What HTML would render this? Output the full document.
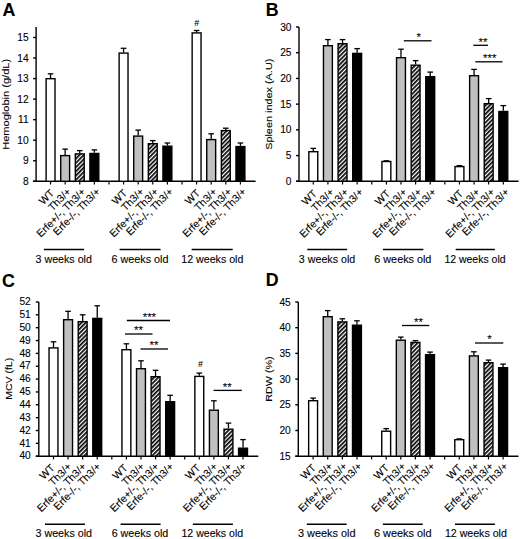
<!DOCTYPE html>
<html><head><meta charset="utf-8"><title>Figure</title>
<style>
html,body{margin:0;padding:0;background:#fff;}
body{width:520px;height:539px;overflow:hidden;}
svg{display:block;}
text{font-family:"Liberation Sans", sans-serif;fill:#000;stroke:#000;stroke-width:0.1px;}
</style></head>
<body>
<svg width="520" height="539" viewBox="0 0 520 539">
<defs>
<pattern id="hatch" patternUnits="userSpaceOnUse" width="3.0" height="3.0" patternTransform="rotate(45)">
<rect x="0" y="0" width="3.0" height="3.0" fill="#fff"/>
<rect x="0" y="0" width="1.7" height="3.0" fill="#000"/>
</pattern>
</defs>
<rect x="0" y="0" width="520" height="539" fill="#fff"/>
<text x="2.6" y="15.9" font-size="17.8" font-weight="bold">A</text>
<line x1="36.1" y1="27" x2="36.1" y2="181.3" stroke="#000" stroke-width="1.4"/>
<line x1="33.1" y1="181.3" x2="255.6" y2="181.3" stroke="#000" stroke-width="1.4"/>
<line x1="33.1" y1="181.3" x2="36.1" y2="181.3" stroke="#000" stroke-width="1.4"/>
<text x="28.6" y="184.9" font-size="10.2" text-anchor="end">8</text>
<line x1="33.1" y1="160.76" x2="36.1" y2="160.76" stroke="#000" stroke-width="1.4"/>
<text x="28.6" y="164.36" font-size="10.2" text-anchor="end">9</text>
<line x1="33.1" y1="140.21" x2="36.1" y2="140.21" stroke="#000" stroke-width="1.4"/>
<text x="28.6" y="143.81" font-size="10.2" text-anchor="end">10</text>
<line x1="33.1" y1="119.67" x2="36.1" y2="119.67" stroke="#000" stroke-width="1.4"/>
<text x="28.6" y="123.27" font-size="10.2" text-anchor="end">11</text>
<line x1="33.1" y1="99.13" x2="36.1" y2="99.13" stroke="#000" stroke-width="1.4"/>
<text x="28.6" y="102.73" font-size="10.2" text-anchor="end">12</text>
<line x1="33.1" y1="78.59" x2="36.1" y2="78.59" stroke="#000" stroke-width="1.4"/>
<text x="28.6" y="82.19" font-size="10.2" text-anchor="end">13</text>
<line x1="33.1" y1="58.04" x2="36.1" y2="58.04" stroke="#000" stroke-width="1.4"/>
<text x="28.6" y="61.64" font-size="10.2" text-anchor="end">14</text>
<line x1="33.1" y1="37.5" x2="36.1" y2="37.5" stroke="#000" stroke-width="1.4"/>
<text x="28.6" y="41.1" font-size="10.2" text-anchor="end">15</text>
<text transform="translate(9,104.35) rotate(-90)" font-size="9.8" text-anchor="middle" textLength="91" lengthAdjust="spacingAndGlyphs">Hemoglobin (g/dL)</text>
<line x1="50.55" y1="181.3" x2="50.55" y2="184.5" stroke="#000" stroke-width="1.2"/>
<line x1="65.16" y1="181.3" x2="65.16" y2="184.5" stroke="#000" stroke-width="1.2"/>
<line x1="79.76" y1="181.3" x2="79.76" y2="184.5" stroke="#000" stroke-width="1.2"/>
<line x1="94.36" y1="181.3" x2="94.36" y2="184.5" stroke="#000" stroke-width="1.2"/>
<line x1="108.97" y1="181.3" x2="108.97" y2="184.5" stroke="#000" stroke-width="1.2"/>
<line x1="123.58" y1="181.3" x2="123.58" y2="184.5" stroke="#000" stroke-width="1.2"/>
<line x1="138.18" y1="181.3" x2="138.18" y2="184.5" stroke="#000" stroke-width="1.2"/>
<line x1="152.78" y1="181.3" x2="152.78" y2="184.5" stroke="#000" stroke-width="1.2"/>
<line x1="167.39" y1="181.3" x2="167.39" y2="184.5" stroke="#000" stroke-width="1.2"/>
<line x1="182" y1="181.3" x2="182" y2="184.5" stroke="#000" stroke-width="1.2"/>
<line x1="196.6" y1="181.3" x2="196.6" y2="184.5" stroke="#000" stroke-width="1.2"/>
<line x1="211.2" y1="181.3" x2="211.2" y2="184.5" stroke="#000" stroke-width="1.2"/>
<line x1="225.81" y1="181.3" x2="225.81" y2="184.5" stroke="#000" stroke-width="1.2"/>
<line x1="240.42" y1="181.3" x2="240.42" y2="184.5" stroke="#000" stroke-width="1.2"/>
<line x1="50.55" y1="78" x2="50.55" y2="73.8" stroke="#000" stroke-width="1.3"/>
<line x1="47.75" y1="73.8" x2="53.35" y2="73.8" stroke="#000" stroke-width="1.3"/>
<rect x="46.1" y="78.7" width="8.9" height="102.6" fill="#ffffff" stroke="#000" stroke-width="1.4"/>
<text transform="translate(54.65,193.8) rotate(-45)" font-size="10.45" text-anchor="end">WT</text>
<line x1="65.16" y1="154.9" x2="65.16" y2="149.1" stroke="#000" stroke-width="1.3"/>
<line x1="62.36" y1="149.1" x2="67.95" y2="149.1" stroke="#000" stroke-width="1.3"/>
<rect x="60.71" y="155.6" width="8.9" height="25.7" fill="#c0c0c0" stroke="#000" stroke-width="1.4"/>
<text transform="translate(71.56,192.4) rotate(-45)" font-size="10.45" text-anchor="end">Th3/+</text>
<line x1="79.76" y1="153.2" x2="79.76" y2="150.6" stroke="#000" stroke-width="1.3"/>
<line x1="76.96" y1="150.6" x2="82.56" y2="150.6" stroke="#000" stroke-width="1.3"/>
<rect x="75.31" y="153.9" width="8.9" height="27.4" fill="url(#hatch)" stroke="#000" stroke-width="1.4"/>
<text transform="translate(86.16,192.4) rotate(-45)" font-size="10.45" text-anchor="end">Erfe+/-, Th3/+</text>
<line x1="94.36" y1="152.8" x2="94.36" y2="149.9" stroke="#000" stroke-width="1.3"/>
<line x1="91.56" y1="149.9" x2="97.16" y2="149.9" stroke="#000" stroke-width="1.3"/>
<rect x="89.91" y="153.5" width="8.9" height="27.8" fill="#000000" stroke="#000" stroke-width="1.4"/>
<text transform="translate(100.77,192.4) rotate(-45)" font-size="10.45" text-anchor="end">Erfe-/-, Th3/+</text>
<line x1="123.58" y1="52.4" x2="123.58" y2="48.3" stroke="#000" stroke-width="1.3"/>
<line x1="120.78" y1="48.3" x2="126.38" y2="48.3" stroke="#000" stroke-width="1.3"/>
<rect x="119.12" y="53.1" width="8.9" height="128.2" fill="#ffffff" stroke="#000" stroke-width="1.4"/>
<text transform="translate(127.67,193.8) rotate(-45)" font-size="10.45" text-anchor="end">WT</text>
<line x1="138.18" y1="135.4" x2="138.18" y2="130.1" stroke="#000" stroke-width="1.3"/>
<line x1="135.38" y1="130.1" x2="140.98" y2="130.1" stroke="#000" stroke-width="1.3"/>
<rect x="133.73" y="136.1" width="8.9" height="45.2" fill="#c0c0c0" stroke="#000" stroke-width="1.4"/>
<text transform="translate(144.58,192.4) rotate(-45)" font-size="10.45" text-anchor="end">Th3/+</text>
<line x1="152.78" y1="143" x2="152.78" y2="140.6" stroke="#000" stroke-width="1.3"/>
<line x1="149.98" y1="140.6" x2="155.59" y2="140.6" stroke="#000" stroke-width="1.3"/>
<rect x="148.33" y="143.7" width="8.9" height="37.6" fill="url(#hatch)" stroke="#000" stroke-width="1.4"/>
<text transform="translate(159.19,192.4) rotate(-45)" font-size="10.45" text-anchor="end">Erfe+/-, Th3/+</text>
<line x1="167.39" y1="145.5" x2="167.39" y2="143" stroke="#000" stroke-width="1.3"/>
<line x1="164.59" y1="143" x2="170.19" y2="143" stroke="#000" stroke-width="1.3"/>
<rect x="162.94" y="146.2" width="8.9" height="35.1" fill="#000000" stroke="#000" stroke-width="1.4"/>
<text transform="translate(173.79,192.4) rotate(-45)" font-size="10.45" text-anchor="end">Erfe-/-, Th3/+</text>
<line x1="196.6" y1="32.2" x2="196.6" y2="30.5" stroke="#000" stroke-width="1.3"/>
<line x1="193.8" y1="30.5" x2="199.4" y2="30.5" stroke="#000" stroke-width="1.3"/>
<rect x="192.15" y="32.9" width="8.9" height="148.4" fill="#ffffff" stroke="#000" stroke-width="1.4"/>
<text transform="translate(200.7,193.8) rotate(-45)" font-size="10.45" text-anchor="end">WT</text>
<line x1="211.2" y1="138.9" x2="211.2" y2="133.8" stroke="#000" stroke-width="1.3"/>
<line x1="208.4" y1="133.8" x2="214" y2="133.8" stroke="#000" stroke-width="1.3"/>
<rect x="206.75" y="139.6" width="8.9" height="41.7" fill="#c0c0c0" stroke="#000" stroke-width="1.4"/>
<text transform="translate(217.6,192.4) rotate(-45)" font-size="10.45" text-anchor="end">Th3/+</text>
<line x1="225.81" y1="129.9" x2="225.81" y2="128.2" stroke="#000" stroke-width="1.3"/>
<line x1="223.01" y1="128.2" x2="228.61" y2="128.2" stroke="#000" stroke-width="1.3"/>
<rect x="221.36" y="130.6" width="8.9" height="50.7" fill="url(#hatch)" stroke="#000" stroke-width="1.4"/>
<text transform="translate(232.21,192.4) rotate(-45)" font-size="10.45" text-anchor="end">Erfe+/-, Th3/+</text>
<line x1="240.42" y1="145.9" x2="240.42" y2="143" stroke="#000" stroke-width="1.3"/>
<line x1="237.62" y1="143" x2="243.22" y2="143" stroke="#000" stroke-width="1.3"/>
<rect x="235.97" y="146.6" width="8.9" height="34.7" fill="#000000" stroke="#000" stroke-width="1.4"/>
<text transform="translate(246.82,192.4) rotate(-45)" font-size="10.45" text-anchor="end">Erfe-/-, Th3/+</text>
<text x="196.5" y="25.5" font-size="8.5" font-style="italic" text-anchor="middle">#</text>
<line x1="43.9" y1="249.5" x2="84.1" y2="249.5" stroke="#000" stroke-width="1.4"/>
<text x="35.6" y="262.8" font-size="10.2" textLength="56.3" lengthAdjust="spacingAndGlyphs">3 weeks old</text>
<line x1="119.6" y1="249.5" x2="160.6" y2="249.5" stroke="#000" stroke-width="1.4"/>
<text x="111.5" y="262.8" font-size="10.2" textLength="56.9" lengthAdjust="spacingAndGlyphs">6 weeks old</text>
<line x1="191.7" y1="249.5" x2="232.7" y2="249.5" stroke="#000" stroke-width="1.4"/>
<text x="181.3" y="262.8" font-size="10.2" textLength="62.1" lengthAdjust="spacingAndGlyphs">12 weeks old</text>
<text x="265.8" y="15.8" font-size="17.8" font-weight="bold">B</text>
<line x1="299" y1="27" x2="299" y2="181.3" stroke="#000" stroke-width="1.4"/>
<line x1="296" y1="181.3" x2="518.5" y2="181.3" stroke="#000" stroke-width="1.4"/>
<line x1="296" y1="181.3" x2="299" y2="181.3" stroke="#000" stroke-width="1.4"/>
<text x="291.5" y="184.9" font-size="10.2" text-anchor="end">0</text>
<line x1="296" y1="155.58" x2="299" y2="155.58" stroke="#000" stroke-width="1.4"/>
<text x="291.5" y="159.18" font-size="10.2" text-anchor="end">5</text>
<line x1="296" y1="129.87" x2="299" y2="129.87" stroke="#000" stroke-width="1.4"/>
<text x="291.5" y="133.47" font-size="10.2" text-anchor="end">10</text>
<line x1="296" y1="104.15" x2="299" y2="104.15" stroke="#000" stroke-width="1.4"/>
<text x="291.5" y="107.75" font-size="10.2" text-anchor="end">15</text>
<line x1="296" y1="78.43" x2="299" y2="78.43" stroke="#000" stroke-width="1.4"/>
<text x="291.5" y="82.03" font-size="10.2" text-anchor="end">20</text>
<line x1="296" y1="52.72" x2="299" y2="52.72" stroke="#000" stroke-width="1.4"/>
<text x="291.5" y="56.32" font-size="10.2" text-anchor="end">25</text>
<line x1="296" y1="27" x2="299" y2="27" stroke="#000" stroke-width="1.4"/>
<text x="291.5" y="30.6" font-size="10.2" text-anchor="end">30</text>
<text transform="translate(271.6,104.25) rotate(-90)" font-size="9.8" text-anchor="middle" textLength="91.2" lengthAdjust="spacingAndGlyphs">Spleen index (A.U)</text>
<line x1="313.3" y1="181.3" x2="313.3" y2="184.5" stroke="#000" stroke-width="1.2"/>
<line x1="327.92" y1="181.3" x2="327.92" y2="184.5" stroke="#000" stroke-width="1.2"/>
<line x1="342.53" y1="181.3" x2="342.53" y2="184.5" stroke="#000" stroke-width="1.2"/>
<line x1="357.14" y1="181.3" x2="357.14" y2="184.5" stroke="#000" stroke-width="1.2"/>
<line x1="371.76" y1="181.3" x2="371.76" y2="184.5" stroke="#000" stroke-width="1.2"/>
<line x1="386.38" y1="181.3" x2="386.38" y2="184.5" stroke="#000" stroke-width="1.2"/>
<line x1="400.99" y1="181.3" x2="400.99" y2="184.5" stroke="#000" stroke-width="1.2"/>
<line x1="415.61" y1="181.3" x2="415.61" y2="184.5" stroke="#000" stroke-width="1.2"/>
<line x1="430.22" y1="181.3" x2="430.22" y2="184.5" stroke="#000" stroke-width="1.2"/>
<line x1="444.84" y1="181.3" x2="444.84" y2="184.5" stroke="#000" stroke-width="1.2"/>
<line x1="459.45" y1="181.3" x2="459.45" y2="184.5" stroke="#000" stroke-width="1.2"/>
<line x1="474.07" y1="181.3" x2="474.07" y2="184.5" stroke="#000" stroke-width="1.2"/>
<line x1="488.68" y1="181.3" x2="488.68" y2="184.5" stroke="#000" stroke-width="1.2"/>
<line x1="503.3" y1="181.3" x2="503.3" y2="184.5" stroke="#000" stroke-width="1.2"/>
<line x1="313.3" y1="151" x2="313.3" y2="148.4" stroke="#000" stroke-width="1.3"/>
<line x1="310.5" y1="148.4" x2="316.1" y2="148.4" stroke="#000" stroke-width="1.3"/>
<rect x="308.85" y="151.7" width="8.9" height="29.6" fill="#ffffff" stroke="#000" stroke-width="1.4"/>
<text transform="translate(317.6,194.2) rotate(-45)" font-size="10.45" text-anchor="end">WT</text>
<line x1="327.92" y1="45" x2="327.92" y2="39.6" stroke="#000" stroke-width="1.3"/>
<line x1="325.12" y1="39.6" x2="330.72" y2="39.6" stroke="#000" stroke-width="1.3"/>
<rect x="323.47" y="45.7" width="8.9" height="135.6" fill="#c0c0c0" stroke="#000" stroke-width="1.4"/>
<text transform="translate(334.51,192.8) rotate(-45)" font-size="10.45" text-anchor="end">Th3/+</text>
<line x1="342.53" y1="43" x2="342.53" y2="39.6" stroke="#000" stroke-width="1.3"/>
<line x1="339.73" y1="39.6" x2="345.33" y2="39.6" stroke="#000" stroke-width="1.3"/>
<rect x="338.08" y="43.7" width="8.9" height="137.6" fill="url(#hatch)" stroke="#000" stroke-width="1.4"/>
<text transform="translate(349.13,192.8) rotate(-45)" font-size="10.45" text-anchor="end">Erfe+/-, Th3/+</text>
<line x1="357.14" y1="52.7" x2="357.14" y2="48.6" stroke="#000" stroke-width="1.3"/>
<line x1="354.34" y1="48.6" x2="359.94" y2="48.6" stroke="#000" stroke-width="1.3"/>
<rect x="352.69" y="53.4" width="8.9" height="127.9" fill="#000000" stroke="#000" stroke-width="1.4"/>
<text transform="translate(363.74,192.8) rotate(-45)" font-size="10.45" text-anchor="end">Erfe-/-, Th3/+</text>
<line x1="386.38" y1="160.8" x2="386.38" y2="160.8" stroke="#000" stroke-width="1.3"/>
<line x1="383.57" y1="160.8" x2="389.18" y2="160.8" stroke="#000" stroke-width="1.3"/>
<rect x="381.93" y="161.5" width="8.9" height="19.8" fill="#ffffff" stroke="#000" stroke-width="1.4"/>
<text transform="translate(390.68,194.2) rotate(-45)" font-size="10.45" text-anchor="end">WT</text>
<line x1="400.99" y1="57" x2="400.99" y2="49.2" stroke="#000" stroke-width="1.3"/>
<line x1="398.19" y1="49.2" x2="403.79" y2="49.2" stroke="#000" stroke-width="1.3"/>
<rect x="396.54" y="57.7" width="8.9" height="123.6" fill="#c0c0c0" stroke="#000" stroke-width="1.4"/>
<text transform="translate(407.59,192.8) rotate(-45)" font-size="10.45" text-anchor="end">Th3/+</text>
<line x1="415.61" y1="64.5" x2="415.61" y2="60.6" stroke="#000" stroke-width="1.3"/>
<line x1="412.81" y1="60.6" x2="418.41" y2="60.6" stroke="#000" stroke-width="1.3"/>
<rect x="411.16" y="65.2" width="8.9" height="116.1" fill="url(#hatch)" stroke="#000" stroke-width="1.4"/>
<text transform="translate(422.2,192.8) rotate(-45)" font-size="10.45" text-anchor="end">Erfe+/-, Th3/+</text>
<line x1="430.22" y1="76" x2="430.22" y2="72.1" stroke="#000" stroke-width="1.3"/>
<line x1="427.42" y1="72.1" x2="433.02" y2="72.1" stroke="#000" stroke-width="1.3"/>
<rect x="425.77" y="76.7" width="8.9" height="104.6" fill="#000000" stroke="#000" stroke-width="1.4"/>
<text transform="translate(436.82,192.8) rotate(-45)" font-size="10.45" text-anchor="end">Erfe-/-, Th3/+</text>
<line x1="459.45" y1="165.9" x2="459.45" y2="165.6" stroke="#000" stroke-width="1.3"/>
<line x1="456.65" y1="165.6" x2="462.25" y2="165.6" stroke="#000" stroke-width="1.3"/>
<rect x="455" y="166.6" width="8.9" height="14.7" fill="#ffffff" stroke="#000" stroke-width="1.4"/>
<text transform="translate(463.75,194.2) rotate(-45)" font-size="10.45" text-anchor="end">WT</text>
<line x1="474.07" y1="75" x2="474.07" y2="69.4" stroke="#000" stroke-width="1.3"/>
<line x1="471.27" y1="69.4" x2="476.87" y2="69.4" stroke="#000" stroke-width="1.3"/>
<rect x="469.62" y="75.7" width="8.9" height="105.6" fill="#c0c0c0" stroke="#000" stroke-width="1.4"/>
<text transform="translate(480.67,192.8) rotate(-45)" font-size="10.45" text-anchor="end">Th3/+</text>
<line x1="488.68" y1="103" x2="488.68" y2="98.6" stroke="#000" stroke-width="1.3"/>
<line x1="485.88" y1="98.6" x2="491.48" y2="98.6" stroke="#000" stroke-width="1.3"/>
<rect x="484.23" y="103.7" width="8.9" height="77.6" fill="url(#hatch)" stroke="#000" stroke-width="1.4"/>
<text transform="translate(495.28,192.8) rotate(-45)" font-size="10.45" text-anchor="end">Erfe+/-, Th3/+</text>
<line x1="503.3" y1="110.8" x2="503.3" y2="105.6" stroke="#000" stroke-width="1.3"/>
<line x1="500.5" y1="105.6" x2="506.1" y2="105.6" stroke="#000" stroke-width="1.3"/>
<rect x="498.85" y="111.5" width="8.9" height="69.8" fill="#000000" stroke="#000" stroke-width="1.4"/>
<text transform="translate(509.89,192.8) rotate(-45)" font-size="10.45" text-anchor="end">Erfe-/-, Th3/+</text>
<line x1="403.8" y1="40.8" x2="431.5" y2="40.8" stroke="#000" stroke-width="1.3"/>
<text x="418.8" y="41.1" font-size="11.5" text-anchor="middle">*</text>
<line x1="473.3" y1="45.3" x2="488" y2="45.3" stroke="#000" stroke-width="1.3"/>
<text x="482.9" y="45.6" font-size="11.5" text-anchor="middle">**</text>
<line x1="475.3" y1="61.8" x2="502.5" y2="61.8" stroke="#000" stroke-width="1.3"/>
<text x="489.8" y="62.1" font-size="11.5" text-anchor="middle">***</text>
<line x1="307.3" y1="249.5" x2="347.1" y2="249.5" stroke="#000" stroke-width="1.4"/>
<text x="298.8" y="262.8" font-size="10.2" textLength="56.5" lengthAdjust="spacingAndGlyphs">3 weeks old</text>
<line x1="383" y1="249.5" x2="423.4" y2="249.5" stroke="#000" stroke-width="1.4"/>
<text x="374.3" y="262.8" font-size="10.2" textLength="57.1" lengthAdjust="spacingAndGlyphs">6 weeks old</text>
<line x1="455.7" y1="249.5" x2="494.9" y2="249.5" stroke="#000" stroke-width="1.4"/>
<text x="444.4" y="262.8" font-size="10.2" textLength="61.2" lengthAdjust="spacingAndGlyphs">12 weeks old</text>
<text x="2" y="286.6" font-size="17.8" font-weight="bold">C</text>
<line x1="38.8" y1="302" x2="38.8" y2="456.2" stroke="#000" stroke-width="1.4"/>
<line x1="35.8" y1="456.2" x2="258.3" y2="456.2" stroke="#000" stroke-width="1.4"/>
<line x1="35.8" y1="456.2" x2="38.8" y2="456.2" stroke="#000" stroke-width="1.4"/>
<text x="30.8" y="459.4" font-size="10.2" text-anchor="end">40</text>
<line x1="35.8" y1="443.35" x2="38.8" y2="443.35" stroke="#000" stroke-width="1.4"/>
<text x="30.8" y="446.55" font-size="10.2" text-anchor="end">41</text>
<line x1="35.8" y1="430.5" x2="38.8" y2="430.5" stroke="#000" stroke-width="1.4"/>
<text x="30.8" y="433.7" font-size="10.2" text-anchor="end">42</text>
<line x1="35.8" y1="417.65" x2="38.8" y2="417.65" stroke="#000" stroke-width="1.4"/>
<text x="30.8" y="420.85" font-size="10.2" text-anchor="end">43</text>
<line x1="35.8" y1="404.8" x2="38.8" y2="404.8" stroke="#000" stroke-width="1.4"/>
<text x="30.8" y="408" font-size="10.2" text-anchor="end">44</text>
<line x1="35.8" y1="391.95" x2="38.8" y2="391.95" stroke="#000" stroke-width="1.4"/>
<text x="30.8" y="395.15" font-size="10.2" text-anchor="end">45</text>
<line x1="35.8" y1="379.1" x2="38.8" y2="379.1" stroke="#000" stroke-width="1.4"/>
<text x="30.8" y="382.3" font-size="10.2" text-anchor="end">46</text>
<line x1="35.8" y1="366.25" x2="38.8" y2="366.25" stroke="#000" stroke-width="1.4"/>
<text x="30.8" y="369.45" font-size="10.2" text-anchor="end">47</text>
<line x1="35.8" y1="353.4" x2="38.8" y2="353.4" stroke="#000" stroke-width="1.4"/>
<text x="30.8" y="356.6" font-size="10.2" text-anchor="end">48</text>
<line x1="35.8" y1="340.55" x2="38.8" y2="340.55" stroke="#000" stroke-width="1.4"/>
<text x="30.8" y="343.75" font-size="10.2" text-anchor="end">49</text>
<line x1="35.8" y1="327.7" x2="38.8" y2="327.7" stroke="#000" stroke-width="1.4"/>
<text x="30.8" y="330.9" font-size="10.2" text-anchor="end">50</text>
<line x1="35.8" y1="314.85" x2="38.8" y2="314.85" stroke="#000" stroke-width="1.4"/>
<text x="30.8" y="318.05" font-size="10.2" text-anchor="end">51</text>
<line x1="35.8" y1="302" x2="38.8" y2="302" stroke="#000" stroke-width="1.4"/>
<text x="30.8" y="305.2" font-size="10.2" text-anchor="end">52</text>
<text transform="translate(11.7,378.75) rotate(-90)" font-size="9.8" text-anchor="middle" textLength="41.9" lengthAdjust="spacingAndGlyphs">MCV (fL)</text>
<line x1="53.5" y1="456.2" x2="53.5" y2="459.4" stroke="#000" stroke-width="1.2"/>
<line x1="68.08" y1="456.2" x2="68.08" y2="459.4" stroke="#000" stroke-width="1.2"/>
<line x1="82.66" y1="456.2" x2="82.66" y2="459.4" stroke="#000" stroke-width="1.2"/>
<line x1="97.24" y1="456.2" x2="97.24" y2="459.4" stroke="#000" stroke-width="1.2"/>
<line x1="111.82" y1="456.2" x2="111.82" y2="459.4" stroke="#000" stroke-width="1.2"/>
<line x1="126.4" y1="456.2" x2="126.4" y2="459.4" stroke="#000" stroke-width="1.2"/>
<line x1="140.98" y1="456.2" x2="140.98" y2="459.4" stroke="#000" stroke-width="1.2"/>
<line x1="155.56" y1="456.2" x2="155.56" y2="459.4" stroke="#000" stroke-width="1.2"/>
<line x1="170.14" y1="456.2" x2="170.14" y2="459.4" stroke="#000" stroke-width="1.2"/>
<line x1="184.72" y1="456.2" x2="184.72" y2="459.4" stroke="#000" stroke-width="1.2"/>
<line x1="199.3" y1="456.2" x2="199.3" y2="459.4" stroke="#000" stroke-width="1.2"/>
<line x1="213.88" y1="456.2" x2="213.88" y2="459.4" stroke="#000" stroke-width="1.2"/>
<line x1="228.46" y1="456.2" x2="228.46" y2="459.4" stroke="#000" stroke-width="1.2"/>
<line x1="243.04" y1="456.2" x2="243.04" y2="459.4" stroke="#000" stroke-width="1.2"/>
<line x1="53.5" y1="347.2" x2="53.5" y2="341.8" stroke="#000" stroke-width="1.3"/>
<line x1="50.7" y1="341.8" x2="56.3" y2="341.8" stroke="#000" stroke-width="1.3"/>
<rect x="49.05" y="347.9" width="8.9" height="108.3" fill="#ffffff" stroke="#000" stroke-width="1.4"/>
<text transform="translate(55.3,468.6) rotate(-45)" font-size="10.45" text-anchor="end">WT</text>
<line x1="68.08" y1="319" x2="68.08" y2="311.3" stroke="#000" stroke-width="1.3"/>
<line x1="65.28" y1="311.3" x2="70.88" y2="311.3" stroke="#000" stroke-width="1.3"/>
<rect x="63.63" y="319.7" width="8.9" height="136.5" fill="#c0c0c0" stroke="#000" stroke-width="1.4"/>
<text transform="translate(72.18,467.2) rotate(-45)" font-size="10.45" text-anchor="end">Th3/+</text>
<line x1="82.66" y1="321" x2="82.66" y2="314.8" stroke="#000" stroke-width="1.3"/>
<line x1="79.86" y1="314.8" x2="85.46" y2="314.8" stroke="#000" stroke-width="1.3"/>
<rect x="78.21" y="321.7" width="8.9" height="134.5" fill="url(#hatch)" stroke="#000" stroke-width="1.4"/>
<text transform="translate(86.76,467.2) rotate(-45)" font-size="10.45" text-anchor="end">Erfe+/-, Th3/+</text>
<line x1="97.24" y1="317.7" x2="97.24" y2="305.8" stroke="#000" stroke-width="1.3"/>
<line x1="94.44" y1="305.8" x2="100.04" y2="305.8" stroke="#000" stroke-width="1.3"/>
<rect x="92.79" y="318.4" width="8.9" height="137.8" fill="#000000" stroke="#000" stroke-width="1.4"/>
<text transform="translate(101.34,467.2) rotate(-45)" font-size="10.45" text-anchor="end">Erfe-/-, Th3/+</text>
<line x1="126.4" y1="349" x2="126.4" y2="343.8" stroke="#000" stroke-width="1.3"/>
<line x1="123.6" y1="343.8" x2="129.2" y2="343.8" stroke="#000" stroke-width="1.3"/>
<rect x="121.95" y="349.7" width="8.9" height="106.5" fill="#ffffff" stroke="#000" stroke-width="1.4"/>
<text transform="translate(128.2,468.6) rotate(-45)" font-size="10.45" text-anchor="end">WT</text>
<line x1="140.98" y1="368" x2="140.98" y2="360.8" stroke="#000" stroke-width="1.3"/>
<line x1="138.18" y1="360.8" x2="143.78" y2="360.8" stroke="#000" stroke-width="1.3"/>
<rect x="136.53" y="368.7" width="8.9" height="87.5" fill="#c0c0c0" stroke="#000" stroke-width="1.4"/>
<text transform="translate(145.08,467.2) rotate(-45)" font-size="10.45" text-anchor="end">Th3/+</text>
<line x1="155.56" y1="376" x2="155.56" y2="370.3" stroke="#000" stroke-width="1.3"/>
<line x1="152.76" y1="370.3" x2="158.36" y2="370.3" stroke="#000" stroke-width="1.3"/>
<rect x="151.11" y="376.7" width="8.9" height="79.5" fill="url(#hatch)" stroke="#000" stroke-width="1.4"/>
<text transform="translate(159.66,467.2) rotate(-45)" font-size="10.45" text-anchor="end">Erfe+/-, Th3/+</text>
<line x1="170.14" y1="401" x2="170.14" y2="395.3" stroke="#000" stroke-width="1.3"/>
<line x1="167.34" y1="395.3" x2="172.94" y2="395.3" stroke="#000" stroke-width="1.3"/>
<rect x="165.69" y="401.7" width="8.9" height="54.5" fill="#000000" stroke="#000" stroke-width="1.4"/>
<text transform="translate(174.24,467.2) rotate(-45)" font-size="10.45" text-anchor="end">Erfe-/-, Th3/+</text>
<line x1="199.3" y1="375.7" x2="199.3" y2="373.1" stroke="#000" stroke-width="1.3"/>
<line x1="196.5" y1="373.1" x2="202.1" y2="373.1" stroke="#000" stroke-width="1.3"/>
<rect x="194.85" y="376.4" width="8.9" height="79.8" fill="#ffffff" stroke="#000" stroke-width="1.4"/>
<text transform="translate(201.1,468.6) rotate(-45)" font-size="10.45" text-anchor="end">WT</text>
<line x1="213.88" y1="409.5" x2="213.88" y2="400.8" stroke="#000" stroke-width="1.3"/>
<line x1="211.08" y1="400.8" x2="216.68" y2="400.8" stroke="#000" stroke-width="1.3"/>
<rect x="209.43" y="410.2" width="8.9" height="46" fill="#c0c0c0" stroke="#000" stroke-width="1.4"/>
<text transform="translate(217.98,467.2) rotate(-45)" font-size="10.45" text-anchor="end">Th3/+</text>
<line x1="228.46" y1="428.5" x2="228.46" y2="423.1" stroke="#000" stroke-width="1.3"/>
<line x1="225.66" y1="423.1" x2="231.26" y2="423.1" stroke="#000" stroke-width="1.3"/>
<rect x="224.01" y="429.2" width="8.9" height="27" fill="url(#hatch)" stroke="#000" stroke-width="1.4"/>
<text transform="translate(232.56,467.2) rotate(-45)" font-size="10.45" text-anchor="end">Erfe+/-, Th3/+</text>
<line x1="243.04" y1="447.5" x2="243.04" y2="439.6" stroke="#000" stroke-width="1.3"/>
<line x1="240.24" y1="439.6" x2="245.84" y2="439.6" stroke="#000" stroke-width="1.3"/>
<rect x="238.59" y="448.2" width="8.9" height="8" fill="#000000" stroke="#000" stroke-width="1.4"/>
<text transform="translate(247.14,467.2) rotate(-45)" font-size="10.45" text-anchor="end">Erfe-/-, Th3/+</text>
<line x1="126.8" y1="320.5" x2="170" y2="320.5" stroke="#000" stroke-width="1.3"/>
<text x="149.4" y="320.8" font-size="11.5" text-anchor="middle">***</text>
<line x1="125" y1="334" x2="152.5" y2="334" stroke="#000" stroke-width="1.3"/>
<text x="138.6" y="334.3" font-size="11.5" text-anchor="middle">**</text>
<line x1="140.5" y1="349" x2="168" y2="349" stroke="#000" stroke-width="1.3"/>
<text x="154.1" y="349.3" font-size="11.5" text-anchor="middle">**</text>
<line x1="213.5" y1="390.4" x2="241.8" y2="390.4" stroke="#000" stroke-width="1.3"/>
<text x="227.3" y="390.7" font-size="11.5" text-anchor="middle">**</text>
<text x="200.3" y="367.2" font-size="8.5" font-style="italic" text-anchor="middle">#</text>
<line x1="45" y1="524.2" x2="84.9" y2="524.2" stroke="#000" stroke-width="1.4"/>
<text x="35.5" y="537.4" font-size="10.2" textLength="56.5" lengthAdjust="spacingAndGlyphs">3 weeks old</text>
<line x1="120.6" y1="524.2" x2="160.6" y2="524.2" stroke="#000" stroke-width="1.4"/>
<text x="111.7" y="537.4" font-size="10.2" textLength="56.6" lengthAdjust="spacingAndGlyphs">6 weeks old</text>
<line x1="192.9" y1="524.2" x2="232.9" y2="524.2" stroke="#000" stroke-width="1.4"/>
<text x="181.5" y="537.4" font-size="10.2" textLength="61.6" lengthAdjust="spacingAndGlyphs">12 weeks old</text>
<text x="265.8" y="286.4" font-size="17.8" font-weight="bold">D</text>
<line x1="298.3" y1="302" x2="298.3" y2="456.2" stroke="#000" stroke-width="1.4"/>
<line x1="295.3" y1="456.2" x2="518.5" y2="456.2" stroke="#000" stroke-width="1.4"/>
<line x1="295.3" y1="456.2" x2="298.3" y2="456.2" stroke="#000" stroke-width="1.4"/>
<text x="290.8" y="459.8" font-size="10.2" text-anchor="end">15</text>
<line x1="295.3" y1="430.5" x2="298.3" y2="430.5" stroke="#000" stroke-width="1.4"/>
<text x="290.8" y="434.1" font-size="10.2" text-anchor="end">20</text>
<line x1="295.3" y1="404.8" x2="298.3" y2="404.8" stroke="#000" stroke-width="1.4"/>
<text x="290.8" y="408.4" font-size="10.2" text-anchor="end">25</text>
<line x1="295.3" y1="379.1" x2="298.3" y2="379.1" stroke="#000" stroke-width="1.4"/>
<text x="290.8" y="382.7" font-size="10.2" text-anchor="end">30</text>
<line x1="295.3" y1="353.4" x2="298.3" y2="353.4" stroke="#000" stroke-width="1.4"/>
<text x="290.8" y="357" font-size="10.2" text-anchor="end">35</text>
<line x1="295.3" y1="327.7" x2="298.3" y2="327.7" stroke="#000" stroke-width="1.4"/>
<text x="290.8" y="331.3" font-size="10.2" text-anchor="end">40</text>
<line x1="295.3" y1="302" x2="298.3" y2="302" stroke="#000" stroke-width="1.4"/>
<text x="290.8" y="305.6" font-size="10.2" text-anchor="end">45</text>
<text transform="translate(271.6,379.1) rotate(-90)" font-size="9.8" text-anchor="middle" textLength="45.4" lengthAdjust="spacingAndGlyphs">RDW (%)</text>
<line x1="313.1" y1="456.2" x2="313.1" y2="459.4" stroke="#000" stroke-width="1.2"/>
<line x1="327.72" y1="456.2" x2="327.72" y2="459.4" stroke="#000" stroke-width="1.2"/>
<line x1="342.33" y1="456.2" x2="342.33" y2="459.4" stroke="#000" stroke-width="1.2"/>
<line x1="356.95" y1="456.2" x2="356.95" y2="459.4" stroke="#000" stroke-width="1.2"/>
<line x1="371.56" y1="456.2" x2="371.56" y2="459.4" stroke="#000" stroke-width="1.2"/>
<line x1="386.18" y1="456.2" x2="386.18" y2="459.4" stroke="#000" stroke-width="1.2"/>
<line x1="400.79" y1="456.2" x2="400.79" y2="459.4" stroke="#000" stroke-width="1.2"/>
<line x1="415.41" y1="456.2" x2="415.41" y2="459.4" stroke="#000" stroke-width="1.2"/>
<line x1="430.02" y1="456.2" x2="430.02" y2="459.4" stroke="#000" stroke-width="1.2"/>
<line x1="444.63" y1="456.2" x2="444.63" y2="459.4" stroke="#000" stroke-width="1.2"/>
<line x1="459.25" y1="456.2" x2="459.25" y2="459.4" stroke="#000" stroke-width="1.2"/>
<line x1="473.87" y1="456.2" x2="473.87" y2="459.4" stroke="#000" stroke-width="1.2"/>
<line x1="488.48" y1="456.2" x2="488.48" y2="459.4" stroke="#000" stroke-width="1.2"/>
<line x1="503.1" y1="456.2" x2="503.1" y2="459.4" stroke="#000" stroke-width="1.2"/>
<line x1="313.1" y1="400" x2="313.1" y2="398.1" stroke="#000" stroke-width="1.3"/>
<line x1="310.3" y1="398.1" x2="315.9" y2="398.1" stroke="#000" stroke-width="1.3"/>
<rect x="308.65" y="400.7" width="8.9" height="55.5" fill="#ffffff" stroke="#000" stroke-width="1.4"/>
<text transform="translate(316.4,468.4) rotate(-45)" font-size="10.45" text-anchor="end">WT</text>
<line x1="327.72" y1="316" x2="327.72" y2="310.6" stroke="#000" stroke-width="1.3"/>
<line x1="324.92" y1="310.6" x2="330.52" y2="310.6" stroke="#000" stroke-width="1.3"/>
<rect x="323.27" y="316.7" width="8.9" height="139.5" fill="#c0c0c0" stroke="#000" stroke-width="1.4"/>
<text transform="translate(333.31,467) rotate(-45)" font-size="10.45" text-anchor="end">Th3/+</text>
<line x1="342.33" y1="321.2" x2="342.33" y2="318.8" stroke="#000" stroke-width="1.3"/>
<line x1="339.53" y1="318.8" x2="345.13" y2="318.8" stroke="#000" stroke-width="1.3"/>
<rect x="337.88" y="321.9" width="8.9" height="134.3" fill="url(#hatch)" stroke="#000" stroke-width="1.4"/>
<text transform="translate(347.93,467) rotate(-45)" font-size="10.45" text-anchor="end">Erfe+/-, Th3/+</text>
<line x1="356.95" y1="324.5" x2="356.95" y2="320.8" stroke="#000" stroke-width="1.3"/>
<line x1="354.15" y1="320.8" x2="359.75" y2="320.8" stroke="#000" stroke-width="1.3"/>
<rect x="352.5" y="325.2" width="8.9" height="131" fill="#000000" stroke="#000" stroke-width="1.4"/>
<text transform="translate(362.55,467) rotate(-45)" font-size="10.45" text-anchor="end">Erfe-/-, Th3/+</text>
<line x1="386.18" y1="430.5" x2="386.18" y2="428.6" stroke="#000" stroke-width="1.3"/>
<line x1="383.38" y1="428.6" x2="388.98" y2="428.6" stroke="#000" stroke-width="1.3"/>
<rect x="381.73" y="431.2" width="8.9" height="25" fill="#ffffff" stroke="#000" stroke-width="1.4"/>
<text transform="translate(389.48,468.4) rotate(-45)" font-size="10.45" text-anchor="end">WT</text>
<line x1="400.79" y1="339.5" x2="400.79" y2="337.1" stroke="#000" stroke-width="1.3"/>
<line x1="397.99" y1="337.1" x2="403.59" y2="337.1" stroke="#000" stroke-width="1.3"/>
<rect x="396.34" y="340.2" width="8.9" height="116" fill="#c0c0c0" stroke="#000" stroke-width="1.4"/>
<text transform="translate(406.39,467) rotate(-45)" font-size="10.45" text-anchor="end">Th3/+</text>
<line x1="415.41" y1="341.7" x2="415.41" y2="340.6" stroke="#000" stroke-width="1.3"/>
<line x1="412.61" y1="340.6" x2="418.21" y2="340.6" stroke="#000" stroke-width="1.3"/>
<rect x="410.96" y="342.4" width="8.9" height="113.8" fill="url(#hatch)" stroke="#000" stroke-width="1.4"/>
<text transform="translate(421,467) rotate(-45)" font-size="10.45" text-anchor="end">Erfe+/-, Th3/+</text>
<line x1="430.02" y1="354" x2="430.02" y2="352.1" stroke="#000" stroke-width="1.3"/>
<line x1="427.22" y1="352.1" x2="432.82" y2="352.1" stroke="#000" stroke-width="1.3"/>
<rect x="425.57" y="354.7" width="8.9" height="101.5" fill="#000000" stroke="#000" stroke-width="1.4"/>
<text transform="translate(435.62,467) rotate(-45)" font-size="10.45" text-anchor="end">Erfe-/-, Th3/+</text>
<line x1="459.25" y1="439" x2="459.25" y2="438.9" stroke="#000" stroke-width="1.3"/>
<line x1="456.45" y1="438.9" x2="462.05" y2="438.9" stroke="#000" stroke-width="1.3"/>
<rect x="454.8" y="439.7" width="8.9" height="16.5" fill="#ffffff" stroke="#000" stroke-width="1.4"/>
<text transform="translate(462.55,468.4) rotate(-45)" font-size="10.45" text-anchor="end">WT</text>
<line x1="473.87" y1="355.2" x2="473.87" y2="351.8" stroke="#000" stroke-width="1.3"/>
<line x1="471.06" y1="351.8" x2="476.67" y2="351.8" stroke="#000" stroke-width="1.3"/>
<rect x="469.42" y="355.9" width="8.9" height="100.3" fill="#c0c0c0" stroke="#000" stroke-width="1.4"/>
<text transform="translate(479.46,467) rotate(-45)" font-size="10.45" text-anchor="end">Th3/+</text>
<line x1="488.48" y1="362" x2="488.48" y2="360.1" stroke="#000" stroke-width="1.3"/>
<line x1="485.68" y1="360.1" x2="491.28" y2="360.1" stroke="#000" stroke-width="1.3"/>
<rect x="484.03" y="362.7" width="8.9" height="93.5" fill="url(#hatch)" stroke="#000" stroke-width="1.4"/>
<text transform="translate(494.08,467) rotate(-45)" font-size="10.45" text-anchor="end">Erfe+/-, Th3/+</text>
<line x1="503.1" y1="367" x2="503.1" y2="364.1" stroke="#000" stroke-width="1.3"/>
<line x1="500.3" y1="364.1" x2="505.9" y2="364.1" stroke="#000" stroke-width="1.3"/>
<rect x="498.65" y="367.7" width="8.9" height="88.5" fill="#000000" stroke="#000" stroke-width="1.4"/>
<text transform="translate(508.69,467) rotate(-45)" font-size="10.45" text-anchor="end">Erfe-/-, Th3/+</text>
<line x1="402" y1="325.5" x2="429.3" y2="325.5" stroke="#000" stroke-width="1.3"/>
<text x="418.5" y="325.8" font-size="11.5" text-anchor="middle">**</text>
<line x1="475" y1="343" x2="503.3" y2="343" stroke="#000" stroke-width="1.3"/>
<text x="489.5" y="343.3" font-size="11.5" text-anchor="middle">*</text>
<line x1="306.8" y1="524.2" x2="346.6" y2="524.2" stroke="#000" stroke-width="1.4"/>
<text x="298" y="537.4" font-size="10.2" textLength="57.5" lengthAdjust="spacingAndGlyphs">3 weeks old</text>
<line x1="382.9" y1="524.2" x2="422.7" y2="524.2" stroke="#000" stroke-width="1.4"/>
<text x="374" y="537.4" font-size="10.2" textLength="57.6" lengthAdjust="spacingAndGlyphs">6 weeks old</text>
<line x1="455" y1="524.2" x2="494.9" y2="524.2" stroke="#000" stroke-width="1.4"/>
<text x="444.9" y="537.4" font-size="10.2" textLength="61.9" lengthAdjust="spacingAndGlyphs">12 weeks old</text>
</svg>
</body></html>
